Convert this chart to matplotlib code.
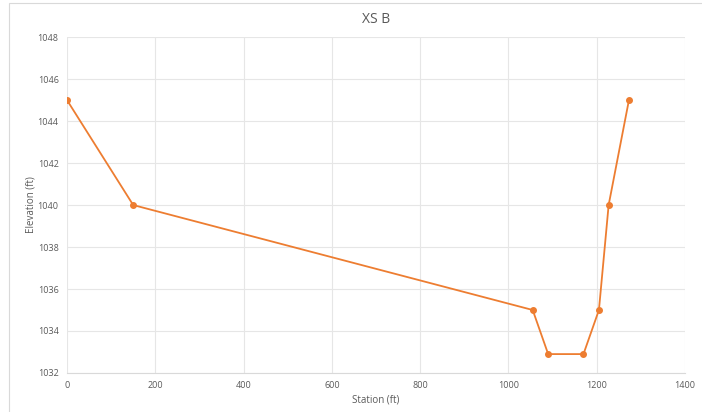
import matplotlib
matplotlib.use("Agg")
from matplotlib import pyplot as plt
from matplotlib.patches import Rectangle

station = [0, 150, 1055, 1090, 1170, 1205, 1227, 1273]
elevation = [1045, 1040, 1035, 1032.9, 1032.9, 1035, 1040, 1045]

plt.rcParams['font.family'] = ['Open Sans', 'DejaVu Sans']

fig = plt.figure(figsize=(7.02, 4.12), dpi=100)
ax = fig.add_axes([0.0954, 0.0947, 0.8804, 0.8153])

# light frame round the chart area, like the spreadsheet export
fig.patches.append(Rectangle((0.013, -0.01), 0.99, 1.003, transform=fig.transFigure,
                             fill=False, edgecolor='#d9d9d9', linewidth=0.8))

ax.plot(station, elevation, color='#ED7D31', linewidth=1.3,
        marker='o', markersize=4, zorder=3)

ax.set_xlim(0, 1400)
ax.set_ylim(1032, 1048)
ax.set_xticks(range(0, 1401, 200))
ax.set_yticks(range(1032, 1049, 2))
ax.grid(True, color='#e6e6e6', linewidth=0.8)
ax.set_axisbelow(True)
for s in ax.spines.values():
    s.set_visible(False)
ax.spines['bottom'].set_visible(True)
ax.spines['bottom'].set_color('#d9d9d9')
ax.tick_params(length=0, labelsize=6.5, labelcolor='#595959', pad=6)

ax.set_title('XS B', fontsize=10, color='#595959', pad=10)
ax.set_xlabel('Station (ft)', fontsize=7, color='#595959', labelpad=3)
ax.set_ylabel('Elevation (ft)', fontsize=7, color='#595959', labelpad=1)

fig.savefig('out.png', dpi=100)
